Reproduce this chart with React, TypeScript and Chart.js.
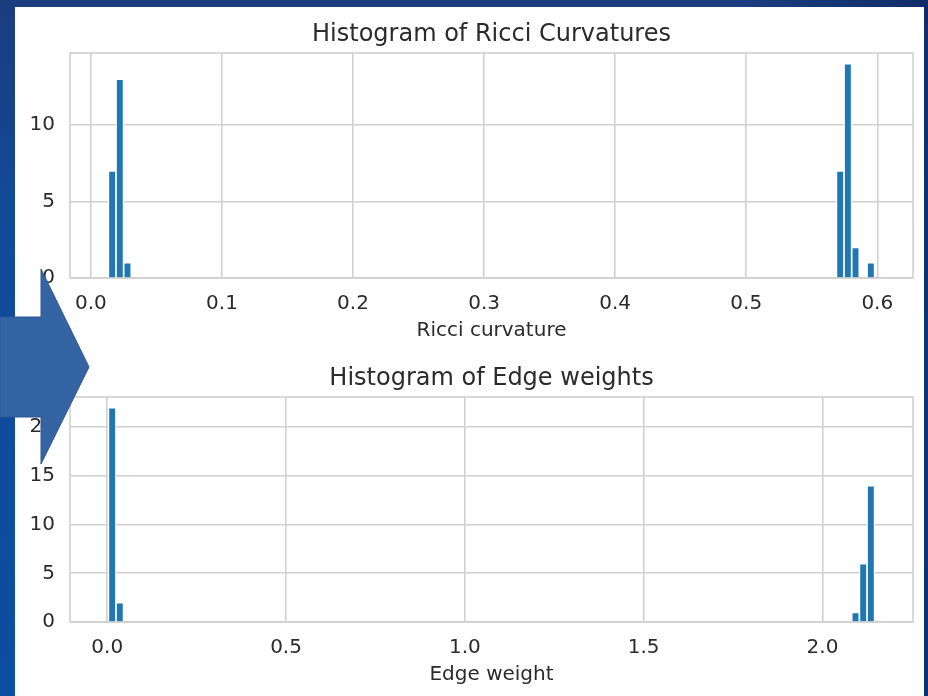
import React, { useEffect, useRef } from "react";
import { Chart, registerables } from "chart.js";

Chart.register(...registerables);

// ---------- data ----------
const binCount = 100;

const ricciMin = 0.0133;
const ricciMax = 0.598;
const ricciBins = [0, 1, 2, 95, 96, 97, 99];
const ricciCounts = [7, 13, 1, 7, 14, 2, 1];
const ricciXTicks = [0, 0.1, 0.2, 0.3, 0.4, 0.5, 0.6];
const ricciYTicks = [0, 5, 10];

const edgeMin = 0.003;
const edgeMax = 2.146;
const edgeBins = [0, 1, 97, 98, 99];
const edgeCounts = [22, 2, 1, 6, 14];
const edgeXTicks = [0, 0.5, 1.0, 1.5, 2.0];
const edgeYTicks = [0, 5, 10, 15, 20];

const FONT = "'DejaVu Sans', sans-serif";
const TEXT = "#2b2b2b";
const GRID = "#d0d0d0";
const BAR = "#2077b4";

const framePlugin = {
  id: "frame",
  beforeDatasetsDraw(chart: any) {
    const { ctx, chartArea } = chart;
    ctx.save();
    ctx.strokeStyle = GRID;
    ctx.lineWidth = 1.6;
    ctx.strokeRect(chartArea.left, chartArea.top, chartArea.right - chartArea.left, chartArea.bottom - chartArea.top);
    ctx.restore();
  },
};

type Params = {
  title: string;
  xLabel: string;
  min: number;
  max: number;
  bins: number[];
  counts: number[];
  xTicks: number[];
  yTicks: number[];
  titlePadTop: number;
  xAxisHeight: number;
  xTitlePadBottom: number;
};

function makeConfig(p: Params): any {
  const w = (p.max - p.min) / binCount;
  const data = p.bins.map((b, i) => ({ x: p.min + (b + 0.5) * w, y: p.counts[i] }));
  const margin = 0.05 * (p.max - p.min);
  const yMax = Math.max(...p.counts) * 1.05;
  return {
    type: "bar",
    data: {
      datasets: [
        {
          data,
          backgroundColor: BAR,
          borderColor: "#ffffff",
          borderWidth: 1.2,
          borderSkipped: "start",
          barPercentage: 1,
          categoryPercentage: 1,
        },
      ],
    },
    options: {
      responsive: false,
      animation: false,
      devicePixelRatio: 1,
      layout: { padding: { left: 0, right: 11, top: 0, bottom: 0 } },
      plugins: {
        legend: { display: false },
        tooltip: { enabled: false },
        title: {
          display: true,
          text: p.title,
          fullSize: false,
          color: TEXT,
          font: { family: FONT, size: 24, weight: "normal" },
          padding: { top: p.titlePadTop, bottom: 4.2 },
        },
      },
      scales: {
        x: {
          type: "linear",
          offset: false,
          min: p.min - margin,
          max: p.max + margin,
          afterBuildTicks: (s: any) => {
            s.ticks = p.xTicks.map((v) => ({ value: v }));
          },
          afterFit: (s: any) => {
            s.height = p.xAxisHeight;
          },
          grid: { color: GRID, lineWidth: 1.6, drawTicks: false, offset: false },
          border: { display: false },
          ticks: {
            color: TEXT,
            padding: 14,
            font: { family: FONT, size: 20 },
            maxRotation: 0,
            autoSkip: false,
            callback: (v: any) => Number(v).toFixed(1),
          },
          title: {
            display: true,
            text: p.xLabel,
            color: TEXT,
            font: { family: FONT, size: 20 },
            padding: { top: 0, bottom: p.xTitlePadBottom },
          },
        },
        y: {
          type: "linear",
          min: 0,
          max: yMax,
          afterBuildTicks: (s: any) => {
            s.ticks = p.yTicks.map((v) => ({ value: v }));
          },
          afterFit: (s: any) => {
            s.width = 55;
          },
          grid: { color: GRID, lineWidth: 1.6, drawTicks: false },
          border: { display: false },
          ticks: {
            color: TEXT,
            padding: 15,
            font: { family: FONT, size: 20 },
            autoSkip: false,
            callback: (v: any) => String(v),
          },
        },
      },
    },
    plugins: [framePlugin],
  };
}

function Hist({ p, top, height }: { p: Params; top: number; height: number }) {
  const ref = useRef<HTMLCanvasElement | null>(null);
  useEffect(() => {
    if (!ref.current) return;
    const chart = new Chart(ref.current, makeConfig(p));
    return () => chart.destroy();
  }, []);
  return (
    <canvas
      ref={ref}
      width={909}
      height={height}
      style={{ position: "absolute", left: 15, top, width: 909, height, display: "block" }}
    />
  );
}

export default function App() {
  const ricci: Params = {
    title: "Histogram of Ricci Curvatures",
    xLabel: "Ricci curvature",
    min: ricciMin,
    max: ricciMax,
    bins: ricciBins,
    counts: ricciCounts,
    xTicks: ricciXTicks,
    yTicks: ricciYTicks,
    titlePadTop: 13,
    xAxisHeight: 65,
    xTitlePadBottom: 0,
  };
  const edge: Params = {
    title: "Histogram of Edge weights",
    xLabel: "Edge weight",
    min: edgeMin,
    max: edgeMax,
    bins: edgeBins,
    counts: edgeCounts,
    xTicks: edgeXTicks,
    yTicks: edgeYTicks,
    titlePadTop: 21,
    xAxisHeight: 74,
    xTitlePadBottom: 9,
  };
  return (
    <div
      style={{
        position: "fixed",
        left: 0,
        top: 0,
        width: 928,
        height: 696,
        overflow: "hidden",
        background:
          "linear-gradient(to right, rgba(10,40,100,0) 0%, rgba(10,40,100,0) 80%, rgba(10,35,90,0.6) 100%), linear-gradient(to bottom, #1b3c7e 0%, #124a98 30%, #0c4ea2 100%)",
      }}
    >
      <div style={{ position: "absolute", left: 15, top: 7, width: 909, height: 689, background: "#ffffff" }} />
      <Hist p={ricci} top={7} height={336} />
      <Hist p={edge} top={343} height={353} />
      <svg
        width={928}
        height={696}
        style={{ position: "absolute", left: 0, top: 0, pointerEvents: "none" }}
      >
        <polygon
          points="0,317 41,317 41,269 89,367 41,464 41,417 0,417"
          fill="#3464a4"
          stroke="#2d5791"
          strokeWidth={1}
        />
      </svg>
    </div>
  );
}
